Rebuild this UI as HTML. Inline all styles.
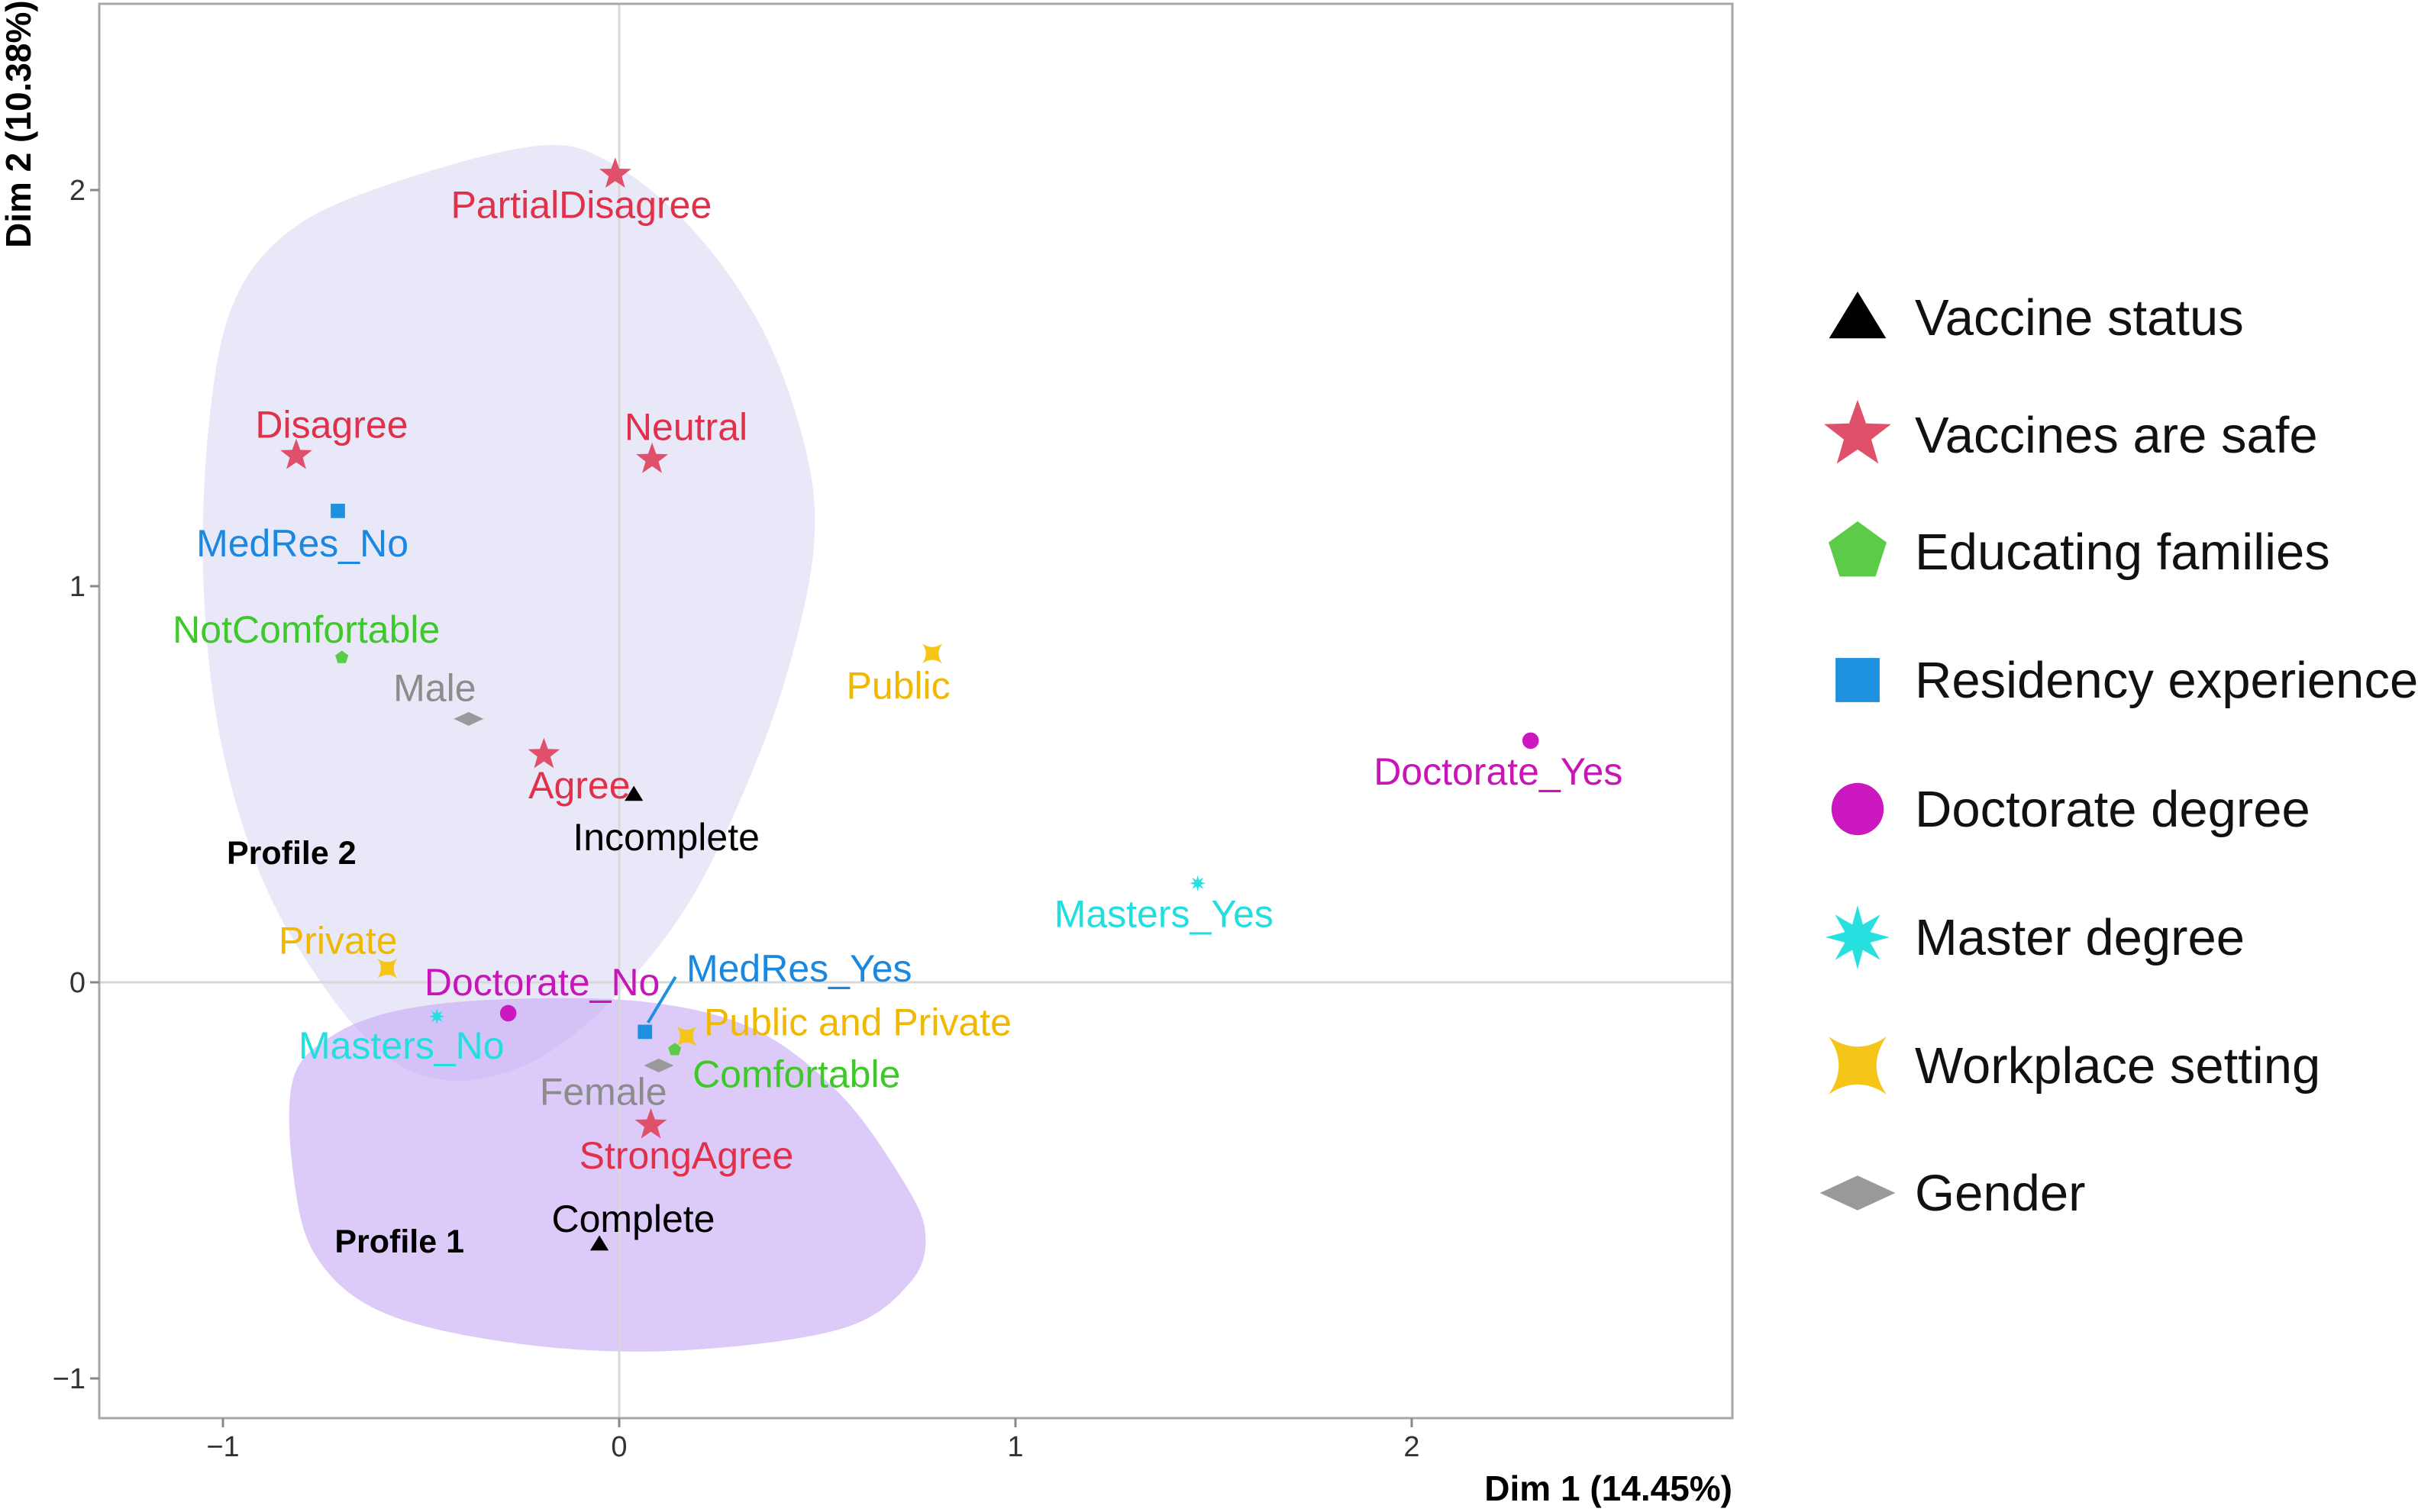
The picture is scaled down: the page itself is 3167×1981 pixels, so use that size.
<!DOCTYPE html>
<html><head><meta charset="utf-8"><style>
html,body{margin:0;padding:0;background:#fff}
svg{display:block;font-family:"Liberation Sans",sans-serif}
</style></head><body>
<svg id="chart" width="3167" height="1981" viewBox="0 0 3167 1981">
<rect x="0" y="0" width="3167" height="1981" fill="#fff"/>
<g id="hulls"></g>
<g id="grid"></g>
<g id="marks"></g>
<g id="legend"></g>
</svg>
<script>
const categories = ["PartialDisagree","Disagree","Neutral","MedRes_No","NotComfortable","Male","Agree","Incomplete","Public","Doctorate_Yes","Masters_Yes","Private","Doctorate_No","Masters_No","MedRes_Yes","Public and Private","Comfortable","Female","StrongAgree","Complete"];
const dim1 = [-0.01,-0.815,0.083,-0.71,-0.70,-0.38,-0.19,0.037,0.79,2.30,1.46,-0.585,-0.28,-0.46,0.065,0.17,0.14,0.10,0.08,-0.05];
const dim2 = [2.04,1.33,1.32,1.19,0.82,0.665,0.575,0.475,0.83,0.61,0.25,0.035,-0.078,-0.086,-0.125,-0.136,-0.17,-0.21,-0.36,-0.66];
const groups = ["safe","safe","safe","res","edu","gender","safe","vacc","work","doc","mast","work","doc","mast","res","work","edu","gender","safe","vacc"];
const xTicks = [-1,0,1,2];
const yTicks = [-1,0,1,2];
const legendGroups = ["vacc","safe","edu","res","doc","mast","work","gender"];
const legendLabels = ["Vaccine status","Vaccines are safe","Educating families","Residency experience","Doctorate degree","Master degree","Workplace setting","Gender"];

const NS="http://www.w3.org/2000/svg";
const X0=811, UX=519, Y0=1287, UY=519;
const xs=v=>X0+v*UX, ys=v=>Y0-v*UY;
const PL=130, PR=2269, PT=5, PB=1858;
function mk(tag,attrs,parent){const e=document.createElementNS(NS,tag);for(const k in attrs)e.setAttribute(k,attrs[k]);parent.appendChild(e);return e;}
const colors={vacc:"#000",safe:"#e0506a",edu:"#5ccc48",res:"#1e90e0",doc:"#cc18c0",mast:"#28e0e0",work:"#f5c518",gender:"#999"};
const textColors={vacc:"#000",safe:"#e0304a",edu:"#3ec82a",res:"#1a88e0",doc:"#c815b8",mast:"#22dede",work:"#f0b800",gender:"#8c8c8c"};

function shape(g,cx,cy,r,parent){
  const c=colors[g];let el;
  if(g==="vacc"){el=mk("polygon",{points:`${cx},${cy-r} ${cx+r*1.1},${cy+r*0.8} ${cx-r*1.1},${cy+r*0.8}`,fill:c},parent);}
  else if(g==="safe"){let p=[];for(let i=0;i<10;i++){const a=-Math.PI/2+i*Math.PI/5,rr=i%2?r*0.45:r*1.1;p.push((cx+rr*Math.cos(a)).toFixed(1)+","+(cy+rr*Math.sin(a)).toFixed(1));}el=mk("polygon",{points:p.join(" "),fill:c},parent);}
  else if(g==="edu"){let p=[];for(let i=0;i<5;i++){const a=-Math.PI/2+i*2*Math.PI/5;p.push((cx+r*Math.cos(a)).toFixed(1)+","+(cy+r*Math.sin(a)).toFixed(1));}el=mk("polygon",{points:p.join(" "),fill:c},parent);}
  else if(g==="res"){el=mk("rect",{x:cx-r*0.85,y:cy-r*0.85,width:r*1.7,height:r*1.7,fill:c},parent);}
  else if(g==="doc"){el=mk("circle",{cx:cx,cy:cy,r:r*0.9,fill:c},parent);}
  else if(g==="mast"){let p=[];for(let i=0;i<16;i++){const a=-Math.PI/2+i*Math.PI/8,rr=i%2?r*0.45:r*1.05;p.push((cx+rr*Math.cos(a)).toFixed(1)+","+(cy+rr*Math.sin(a)).toFixed(1));}el=mk("polygon",{points:p.join(" "),fill:c},parent);}
  else if(g==="work"){el=mk("path",{d:`M${cx-r},${cy-r} Q${cx},${cy-r*0.3} ${cx+r},${cy-r} Q${cx+r*0.3},${cy} ${cx+r},${cy+r} Q${cx},${cy+r*0.3} ${cx-r},${cy+r} Q${cx-r*0.3},${cy} ${cx-r},${cy-r}Z`,fill:c},parent);}
  else {el=mk("polygon",{points:`${cx-r*1.3},${cy} ${cx},${cy-r*0.6} ${cx+r*1.3},${cy} ${cx},${cy+r*0.6}`,fill:c},parent);}
  return el;
}

const S=2.02;
const hulls=document.getElementById("hulls");
const h2=[[345,95],[395,105],[450,150],[495,215],[522,290],[528,350],[515,420],[490,495],[450,580],[405,640],[360,680],[320,698],[285,700],[250,685],[210,640],[170,570],[143,480],[132,380],[135,280],[150,200],[185,152],[245,122]];
const h1=[[190,700],[215,672],[260,655],[330,648],[420,650],[490,668],[545,710],[585,765],[600,800],[590,832],[545,862],[440,876],[340,872],[250,852],[205,815],[190,760]];
function smooth(pts){const P=pts.map(p=>[p[0]*S,p[1]*S]);const n=P.length;let d=`M${P[0][0]},${P[0][1]}`;for(let i=0;i<n;i++){const p0=P[(i-1+n)%n],p1=P[i],p2=P[(i+1)%n],p3=P[(i+2)%n];d+=` C${p1[0]+(p2[0]-p0[0])/6},${p1[1]+(p2[1]-p0[1])/6} ${p2[0]-(p3[0]-p1[0])/6},${p2[1]-(p3[1]-p1[1])/6} ${p2[0]},${p2[1]}`;}return d+"Z";}
let hp=mk("path",{d:smooth(h2),fill:"#e8e8f8"},hulls);


hp=mk("path",{d:smooth(h1),fill:"#c9aef5","fill-opacity":"0.65"},hulls);



const grid=document.getElementById("grid");
let e=mk("line",{x1:xs(0),x2:xs(0),y1:PT,y2:PB,stroke:"#d8d8d8","stroke-width":3},grid);


e=mk("line",{x1:PL,x2:PR,y1:ys(0),y2:ys(0),stroke:"#d8d8d8","stroke-width":3},grid);


e=mk("rect",{x:PL,y:PT,width:PR-PL,height:PB-PT,fill:"none",stroke:"#a8a8a8","stroke-width":3},grid);


xTicks.forEach(t=>{
  const l=mk("line",{x1:xs(t),x2:xs(t),y1:PB,y2:PB+12,stroke:"#888","stroke-width":3},grid);
  
  
  const tx=mk("text",{x:xs(t),y:PB+50,"text-anchor":"middle","font-size":38,fill:"#333"},grid);
  tx.textContent=(t<0?"\u2212":"")+Math.abs(t);
  
  
});
yTicks.forEach(t=>{
  const l=mk("line",{x1:PL-12,x2:PL,y1:ys(t),y2:ys(t),stroke:"#888","stroke-width":3},grid);
  
  
  const tx=mk("text",{x:PL-18,y:ys(t)+13,"text-anchor":"end","font-size":38,fill:"#333"},grid);
  tx.textContent=(t<0?"\u2212":"")+Math.abs(t);
  
  
});
e=mk("text",{x:PR,y:1966,"text-anchor":"end","font-size":46,"font-weight":"bold",fill:"#000"},grid);
e.textContent="Dim 1 (14.45%)";


e=mk("text",{x:0,y:0,"text-anchor":"start","font-size":46,"font-weight":"bold",fill:"#000",transform:"translate(40,325) rotate(-90)"},grid);
e.textContent="Dim 2 (10.38%)";



const marks=document.getElementById("marks");
const offs={"PartialDisagree":[-22,20],"Disagree":[23,-20],"Neutral":[22,-21],"MedRes_No":[-23,21],"NotComfortable":[-23,-18],"Male":[-22,-20],"Agree":[23,20],"Incomplete":[21,28],"Public":[-22,21],"Doctorate_Yes":[-21,20],"Masters_Yes":[-22,20],"Private":[-32,-18],"Doctorate_No":[22,-20],"Masters_No":[-23,19],"MedRes_Yes":[100,-41],"Public and Private":[111,-9],"Comfortable":[79,16],"Female":[-36,17],"StrongAgree":[23,20],"Complete":[22,-16]};
const sizes={vacc:11,safe:20,edu:9,res:11,doc:12,mast:10,work:13,gender:15};
categories.forEach((c,i)=>{
  const cx=xs(dim1[i]),cy=ys(dim2[i]),g=groups[i];
  const o=offs[c]||[0,-20];
  if(c==="MedRes_Yes"){
    const ln=mk("line",{x1:cx+4,y1:cy-12,x2:cx+40,y2:cy-72,stroke:colors.res,"stroke-width":4},marks);
    
    
  }
  const m=shape(g,cx,cy,sizes[g],marks);
  
  
  const t=mk("text",{x:cx+o[0]*S,y:cy+o[1]*S+17,"text-anchor":"middle","font-size":50,fill:textColors[g]},marks);
  t.textContent=c;
  
  
});
e=mk("text",{x:189*S,y:553*S+15,"text-anchor":"middle","font-size":43,"font-weight":"bold",fill:"#000"},marks);
e.textContent="Profile 2";


e=mk("text",{x:259*S,y:805*S+15,"text-anchor":"middle","font-size":43,"font-weight":"bold",fill:"#000"},marks);
e.textContent="Profile 1";



const legend=document.getElementById("legend");
const rowY=[416,570,723,891,1060,1228,1396,1563];
const lsz={vacc:34,safe:42,edu:40,res:34,doc:38,mast:40,work:38,gender:38};
legendGroups.forEach((g,i)=>{
  const s=shape(g,2433,rowY[i],lsz[g],legend);
  
  
  const t=mk("text",{x:2508,y:rowY[i]+23,"font-size":67,fill:"#111"},legend);
  t.textContent=legendLabels[i];
  
  
});
</script>
</body></html>
